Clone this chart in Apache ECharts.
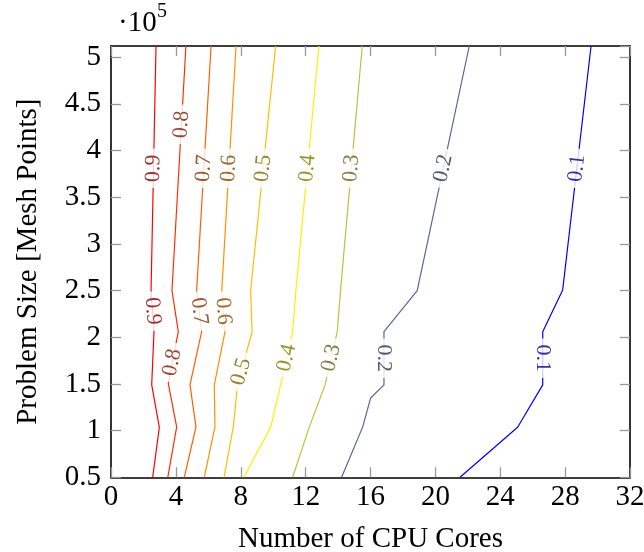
<!DOCTYPE html>
<html><head><meta charset="utf-8">
<script src="https://cdn.jsdelivr.net/npm/echarts@6/dist/echarts.min.js"></script>
<style>html,body{margin:0;padding:0;background:#fff}#c{width:644px;height:552px}</style>
</head><body><div id="c"></div>
<script>
// ---- data (y in units of 1e5 mesh points) ----
const levels = ['0.1','0.2','0.3','0.4','0.5','0.6','0.7','0.8','0.9'];
const contour01 = [[21.52,0.5],[25.07,1.036],[26.62,1.49],[26.62,2.06],[27.85,2.507],[29.6,5.12]];
const contour02 = [[14.22,0.5],[15.52,1.04],[16.01,1.35],[16.83,1.49],[16.83,2.06],[18.88,2.5],[22.09,5.12]];
const contour03 = [[11.2,0.5],[12.23,1.04],[13.2,1.49],[13.95,2.06],[14.15,2.5],[15.49,5.12]];
const contour04 = [[8.2,0.5],[9.85,1.04],[10.46,1.49],[11.2,2.06],[11.4,2.5],[12.82,5.12]];
const contour05 = [[6.97,0.5],[7.54,1.04],[7.8,1.49],[8.7,2.06],[8.61,2.5],[10.15,5.12]];
const contour06 = [[5.75,0.5],[6.41,1.04],[6.37,1.49],[7.03,2.06],[6.83,2.5],[7.71,5.12]];
const contour07 = [[4.52,0.5],[5.24,1.04],[4.87,1.49],[5.59,2.06],[5.28,2.5],[6.17,5.12]];
const contour08 = [[3.5,0.5],[4.05,1.04],[3.53,1.507],[4.15,2.06],[3.76,2.5],[4.62,5.12]];
const contour09 = [[2.57,0.5],[2.98,1.036],[2.51,1.49],[2.65,2.06],[2.47,2.5],[2.775,5.12]];
const contours = [contour01,contour02,contour03,contour04,contour05,contour06,contour07,contour08,contour09];
const labelUpperY = [3.81,3.81,3.81,3.81,3.81,3.81,3.81,4.28,3.81];
const labelLowerY = [1.775,1.775,1.78,1.78,1.63,2.28,2.28,1.73,2.28];
const lowerReadsDown = [true,true,false,false,false,true,true,false,true];
const xTicks = [0,4,8,12,16,20,24,28,32];
const yTicks = [0.5,1,1.5,2,2.5,3,3.5,4,4.5,5];

// ---- styles ----
const lineColors = ['#0000ff','#6060a0','#bfbf40','#ffef00','#ffbf00','#ff9000','#ff6000','#ff3000','#ff0000'];
const labelColors = ['#000080','#303050','#606020','#807800','#806000','#804800','#803000','#801800','#800000'];
const FONT = '"Liberation Serif", "DejaVu Serif", serif';

const chart = echarts.init(document.getElementById('c'), null, {renderer:'canvas'});

function mkX(pos, labels){
  return {type:'value', min:0, max:32, interval:4, position:pos,
    axisLine:{show:true, onZero:false, lineStyle:{color:'#000', width:1.6}},
    axisTick:{show:true, inside:true, length:10, lineStyle:{color:'#999', width:1.3}},
    axisLabel:{show:labels, margin:6, color:'#000', fontFamily:FONT, fontSize:29,
      formatter:v=> xTicks.indexOf(Math.round(v*1000)/1000)>=0 ? String(Math.round(v)) : ''},
    splitLine:{show:false},
    name: labels ? 'Number of CPU Cores' : '', nameLocation:'middle', nameGap:48,
    nameTextStyle:{color:'#000', fontFamily:FONT, fontSize:29}};
}
function mkY(pos, labels){
  return {type:'value', min:0.5, max:5.12, interval:0.5, position:pos,
    axisLine:{show:true, onZero:false, lineStyle:{color:'#000', width:1.6}},
    axisTick:{show:true, inside:true, length:10, lineStyle:{color:'#999', width:1.3}},
    axisLabel:{show:labels, margin:10, color:'#000', fontFamily:FONT, fontSize:29, showMaxLabel:false,
      formatter:v=>{const r=Math.round(v*1000)/1000; return yTicks.indexOf(r)>=0 ? String(r) : '';}},
    splitLine:{show:false},
    name: labels ? 'Problem Size [Mesh Points]' : '', nameLocation:'middle', nameGap:68,
    nameTextStyle:{color:'#000', fontFamily:FONT, fontSize:29}};
}

const lineSeries = contours.map((c,i)=>({
  type:'line', name:levels[i], data:c, xAxisIndex:0, yAxisIndex:0,
  showSymbol:false, symbol:'none', silent:true, z:2, clip:true,
  lineStyle:{color:lineColors[i], width:1.2}
}));

const option = {
  animation:false,
  backgroundColor:'#fff',
  grid:{left:111, right:14, top:46, bottom:74.7, containLabel:false, outerBoundsMode:'none'},
  xAxis:[mkX('bottom',true), mkX('top',false)],
  yAxis:[mkY('left',true), mkY('right',false)],
  graphic:[
    {type:'text', left:118, top:9, style:{text:'·10', font:'29px '+FONT, fill:'#000'}},
    {type:'text', left:157, top:2, style:{text:'5', font:'20px '+FONT, fill:'#000'}}
  ],
  series: lineSeries
};
chart.setOption(option);

// ---- contour labels, placed on the lines through the chart's own scales ----
function segmentAt(pts, y){
  for(let k=0;k<pts.length-1;k++){
    const a=pts[k], b=pts[k+1];
    if((y>=a[1] && y<=b[1]) || (y<=a[1] && y>=b[1])) return [a,b];
  }
  return [pts[0],pts[1]];
}
const labelData = [];
contours.forEach((c,i)=>{
  [[labelUpperY[i], false],[labelLowerY[i], lowerReadsDown[i]]].forEach(([y,down])=>{
    const [a,b] = segmentAt(c,y);
    const t = (y-a[1])/(b[1]-a[1]);
    const x = a[0] + t*(b[0]-a[0]);
    const pa = chart.convertToPixel({gridIndex:0},[a[0],a[1]]);
    const pb = chart.convertToPixel({gridIndex:0},[b[0],b[1]]);
    let dx = pb[0]-pa[0], dy = pa[1]-pb[1];
    if(dy<0){dx=-dx; dy=-dy;}
    let ang = Math.atan2(dy,dx)*180/Math.PI;
    if(down) ang -= 180;
    labelData.push({value:[x,y], label:{rotate:ang, color:labelColors[i], formatter:levels[i]}});
  });
});
chart.setOption({series: lineSeries.concat([{
  type:'scatter', data:labelData, symbolSize:1, silent:true, z:10,
  itemStyle:{color:'rgba(0,0,0,0)'},
  label:{show:true, position:'inside', fontFamily:FONT, fontSize:22, lineHeight:22,
    backgroundColor:'#fff', padding:[0,6]}
}])});
</script></body></html>
